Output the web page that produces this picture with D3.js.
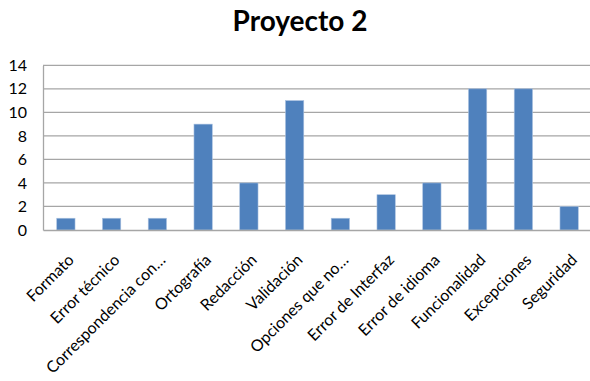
<!DOCTYPE html>
<html><head><meta charset="utf-8">
<script src="https://cdn.jsdelivr.net/npm/d3@7"></script>
<style>body{margin:0;background:#fff;} svg{display:block;}</style>
</head><body>
<script>
const categories = ["Formato","Error técnico","Correspondencia con…","Ortografía","Redacción","Validación","Opciones que no…","Error de Interfaz","Error de idioma","Funcionalidad","Excepciones","Seguridad"];
const values = [1,1,1,9,4,11,1,3,4,12,12,2];
const yTicks = [0,2,4,6,8,10,12,14];
const title = "Proyecto 2";

const W = 590, H = 381;
const m = {left:43, right:592, top:65.3, bottom:230};
const svg = d3.select("body").append("svg").attr("width",W).attr("height",H);
const font = "Lato, 'Open Sans', sans-serif";

const x = d3.scaleBand().domain(categories).range([m.left, m.right]).paddingInner(0.6).paddingOuter(0.3);
const y = d3.scaleLinear().domain([0,14]).range([m.bottom, m.top]);

svg.append("text").attr("x",300).attr("y",31).attr("text-anchor","middle")
  .attr("font-family",font).attr("font-weight","bold").attr("font-size",28).attr("fill","#000").text(title);

// grid
svg.append("g").selectAll("line").data(yTicks.filter(d=>d>0)).join("line")
  .attr("x1",m.left).attr("x2",m.right).attr("y1",d=>y(d)).attr("y2",d=>y(d))
  .attr("stroke","#a6a6a6").attr("stroke-width",1.3);

// y axis
const ya = svg.append("g").attr("transform",`translate(${m.left},0)`)
  .call(d3.axisLeft(y).tickValues(yTicks).tickSize(0).tickPadding(16));
ya.select(".domain").attr("stroke","#a6a6a6").attr("stroke-width",1.3);
ya.selectAll("text").attr("font-family",font).attr("font-size",16).attr("fill","#000");

// bars
svg.append("g").selectAll("rect").data(values).join("rect")
  .attr("x",(d,i)=>x(categories[i])).attr("width",x.bandwidth())
  .attr("y",d=>y(d)).attr("height",d=>y(0)-y(d))
  .attr("fill","#4f81bd").attr("stroke","#a9c1e0").attr("stroke-width",0.6);

// x axis
const xa = svg.append("g").attr("transform",`translate(0,${m.bottom})`)
  .call(d3.axisBottom(x).tickSize(0).tickPadding(0));
xa.select(".domain").attr("stroke","#a6a6a6").attr("stroke-width",1.3);
xa.selectAll("text").attr("font-family",font).attr("font-size",16).attr("fill","#000")
  .attr("text-anchor","end").attr("dy",0).attr("y",0)
  .attr("transform","translate(9,31) rotate(-45)");
</script>
</body></html>
